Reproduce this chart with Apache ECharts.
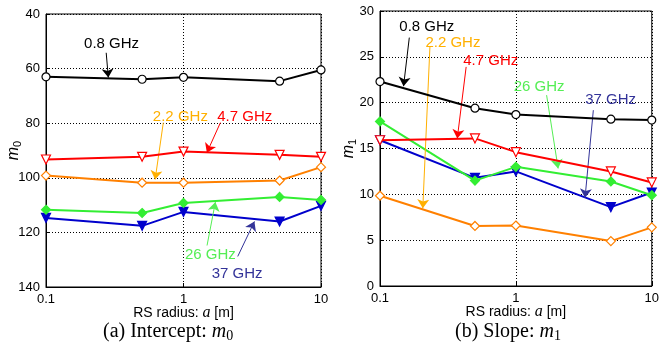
<!DOCTYPE html>
<html>
<head>
<meta charset="utf-8">
<script src="https://cdn.jsdelivr.net/npm/echarts@6/dist/echarts.min.js"></script>
<style>
  html, body { margin: 0; padding: 0; background: #fff; }
  #chart { width: 662px; height: 350px; }
</style>
</head>
<body>
<div id="chart"></div>
<script>
// RS radius a [m]
const radius = [0.1, 0.5, 1, 5, 10];
const freqs = ['0.8 GHz', '2.2 GHz', '4.7 GHz', '26 GHz', '37 GHz'];

// (a) intercept m0
const m0_08 = [63.0, 63.9, 63.2, 64.6, 60.5];
const m0_22 = [99.2, 101.8, 101.8, 101.0, 96.1];
const m0_47 = [93.3, 92.3, 90.4, 91.6, 92.3];
const m0_26 = [111.7, 112.9, 109.2, 107.0, 108.1];
const m0_37 = [114.7, 117.6, 112.5, 116.0, 110.3];

// (b) slope m1
const m1_08 = [22.3, 19.4, 18.7, 18.2, 18.1];
const m1_22 = [9.85, 6.55, 6.6, 4.9, 6.4];
const m1_47 = [15.9, 16.1, 14.6, 12.5, 11.3];
const m1_26 = [17.95, 11.5, 13.0, 11.4, 9.9];
const m1_37 = [15.9, 11.8, 12.5, 8.6, 10.2];

const yTicksA = [40, 60, 80, 100, 120, 140];
const yTicksB = [0, 5, 10, 15, 20, 25, 30];

// label anchors and arrows, data units [x, y]
const labelA = [[0.30, 50.9], [0.949, 77.5], [2.79, 77.5], [1.567, 128.2], [2.455, 135.2]];
const arrowA = [
  [[0.274, 54.2], [0.284, 63.3]],
  [[0.713, 79.8], [0.622, 100.6]],
  [[1.855, 79.8], [1.479, 90.8]],
  [[1.483, 124.8], [1.706, 108.9]],
  [[2.48, 128.8], [3.28, 116.0]]
];
const labelB = [[0.221, 28.26], [0.344, 26.56], [0.653, 24.52], [1.482, 21.72], [4.98, 20.35]];
const arrowB = [
  [[0.1643, 27.1], [0.149, 21.8]],
  [[0.233, 26.08], [0.2065, 8.47]],
  [[0.4305, 23.9], [0.3704, 16.1]],
  [[1.683, 20.82], [2.046, 12.83]],
  [[3.715, 19.18], [3.228, 9.63]]
];

const lineColor = ['#000000', '#ff8000', '#ff0000', '#33ee33', '#0000cc'];
const textColor = ['#000000', '#ffb000', '#ff0000', '#55ee55', '#333399'];
const symbols = ['circle', 'diamond', 'triangle', 'diamond', 'triangle'];
const hollow = [true, true, true, false, false];
const rotate = [0, 0, 180, 0, 180];
const symSize = [8, 9, 9, 9, 9];

const FONT = 'Liberation Sans';
const SERIF = 'Liberation Serif';

function makeSeries(values, gridIdx, labels, arrows) {
  return values.map((vals, i) => ({
    name: freqs[i] + gridIdx,
    type: 'line',
    xAxisIndex: gridIdx,
    yAxisIndex: gridIdx,
    data: radius.map((x, k) => [x, vals[k]]),
    symbol: symbols[i],
    symbolSize: symSize[i],
    symbolRotate: rotate[i],
    showAllSymbol: true,
    lineStyle: { color: lineColor[i], width: 2 },
    itemStyle: {
      color: hollow[i] ? '#fff' : lineColor[i],
      borderColor: lineColor[i],
      borderWidth: 1.2
    },
    z: 3 + (4 - i),
    animation: false,
    markLine: {
      silent: true,
      animation: false,
      symbol: ['none', 'arrow'],
      symbolSize: 9,
      lineStyle: { color: textColor[i], width: 1, type: 'solid' },
      itemStyle: { color: textColor[i] },
      label: { show: false },
      data: [[{ coord: arrows[i][0] }, { coord: arrows[i][1] }]]
    },
    markPoint: {
      silent: true,
      animation: false,
      symbol: 'circle',
      symbolSize: 0,
      label: {
        show: true,
        position: 'inside',
        formatter: freqs[i],
        color: textColor[i],
        fontFamily: FONT,
        fontSize: 15
      },
      data: [{ coord: labels[i] }]
    }
  }));
}

const chart = echarts.init(document.getElementById('chart'), null, { renderer: 'canvas' });

const xAxisBase = {
  type: 'log',
  logBase: 10,
  min: 0.1,
  max: 10,
  nameLocation: 'middle',
  nameGap: 18,
  nameMoveOverlap: false,
  axisLine: { lineStyle: { color: '#000', width: 1 } },
  axisTick: { inside: true, length: 4, lineStyle: { color: '#000' } },
  minorTick: { show: false },
  axisLabel: {
    color: '#000', fontFamily: FONT, fontSize: 13, margin: 6,
    formatter: v => String(+v.toPrecision(3))
  },
  splitLine: { show: true, lineStyle: { color: '#000', type: [1, 2], width: 1 } },
  name: '{n|RS radius: }{i|a}{n| [m]}',
  nameTextStyle: {
    rich: {
      n: { fontFamily: FONT, fontSize: 14, color: '#000' },
      i: { fontFamily: SERIF, fontStyle: 'italic', fontSize: 16, color: '#000' }
    }
  }
};

const yAxisBase = {
  type: 'value',
  nameLocation: 'middle',
  nameMoveOverlap: false,
  axisLine: { show: true, lineStyle: { color: '#000', width: 1 } },
  axisTick: { show: true, inside: true, length: 4, lineStyle: { color: '#000' } },
  axisLabel: { color: '#000', fontFamily: FONT, fontSize: 13, margin: 6 },
  splitLine: { show: true, lineStyle: { color: '#000', type: [1, 2], width: 1 } },
  nameRotate: 90
};

const yNameRich = () => ({
  rich: {
    m: { fontFamily: FONT, fontStyle: 'italic', fontSize: 16, color: '#000' },
    s: { fontFamily: FONT, fontSize: 11, color: '#000', padding: [7, 0, 0, 0] }
  }
});

const captionRich = {
  rich: {
    t: { fontFamily: SERIF, fontSize: 20, fontWeight: 'normal', color: '#000' },
    m: { fontFamily: SERIF, fontStyle: 'italic', fontWeight: 'normal', fontSize: 20, color: '#000' },
    s: { fontFamily: SERIF, fontSize: 14, fontWeight: 'normal', color: '#000', padding: [8, 0, 0, 0] }
  }
};

const seriesA = makeSeries([m0_08, m0_22, m0_47, m0_26, m0_37], 0, labelA, arrowA);
const seriesB = makeSeries([m1_08, m1_22, m1_47, m1_26, m1_37], 1, labelB, arrowB);

const option = {
  backgroundColor: '#fff',
  animation: false,
  grid: [
    { left: 46, top: 14, width: 275, height: 273, show: true, borderColor: '#000', borderWidth: 1, backgroundColor: 'transparent' },
    { left: 380, top: 11, width: 276, height: 275, show: true, borderColor: '#000', borderWidth: 1, backgroundColor: 'transparent' }
  ],
  xAxis: [
    Object.assign({}, xAxisBase, { gridIndex: 0 }),
    Object.assign({}, xAxisBase, { gridIndex: 1 })
  ],
  yAxis: [
    Object.assign({}, yAxisBase, {
      gridIndex: 0, inverse: true, min: yTicksA[0], max: yTicksA[yTicksA.length - 1],
      interval: yTicksA[1] - yTicksA[0], nameGap: 23,
      name: '{m|m}{s|0}',
      nameTextStyle: yNameRich()
    }),
    Object.assign({}, yAxisBase, {
      gridIndex: 1, min: yTicksB[0], max: yTicksB[yTicksB.length - 1],
      interval: yTicksB[1] - yTicksB[0], nameGap: 22,
      name: '{m|m}{s|1}',
      nameTextStyle: yNameRich()
    })
  ],
  title: [
    { text: '{t|(a) Intercept: }{m|m}{s|0}', left: 103, top: 321, padding: 0, textStyle: captionRich },
    { text: '{t|(b) Slope: }{m|m}{s|1}', left: 455, top: 321, padding: 0, textStyle: captionRich }
  ],
  series: seriesA.concat(seriesB)
};

chart.setOption(option);
</script>
</body>
</html>
